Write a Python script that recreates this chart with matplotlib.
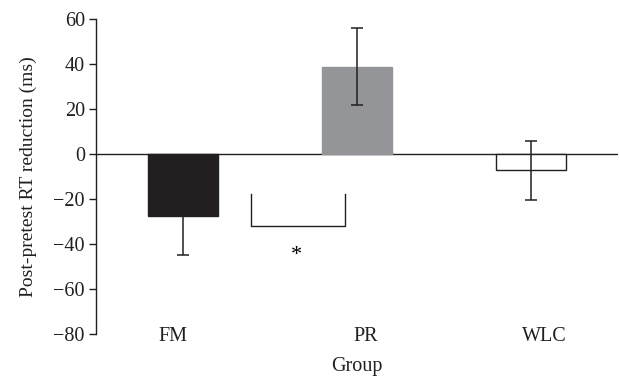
import matplotlib
matplotlib.use("Agg")
import matplotlib.pyplot as plt
import numpy as np

# data
groups = ["FM", "PR", "WLC"]
means = [-27.5, 38.7, -7.3]
errors = [17.4, 17.2, 13.1]
bar_colors = ["#231f20", "#939598", "#ffffff"]
edge_colors = ["#231f20", "#939598", "#231f20"]
yticks = [-80, -60, -40, -20, 0, 20, 40, 60]

# significance bracket between FM and PR (data coords)
bracket_x = [0.39, 0.93]
bracket_y = [-18, -32]
star_pos = (0.65, -45)

plt.rcParams['font.family'] = ['Liberation Serif', 'DejaVu Serif']
fs = 14.5

fig = plt.figure(figsize=(6.19, 3.76), dpi=100)
ax = fig.add_axes([0.155, 0.112, 0.843, 0.838])

x = np.arange(len(groups))
ax.bar(x, means, width=0.4, color=bar_colors, edgecolor=edge_colors, linewidth=1.0, zorder=2)
ax.errorbar(x, means, yerr=errors, fmt="none", ecolor="#231f20", elinewidth=1.1,
            capsize=4, capthick=1.1, zorder=3)
ax.axhline(0, color="#231f20", linewidth=1.0, zorder=1)

# bracket + asterisk
ax.plot([bracket_x[0], bracket_x[0], bracket_x[1], bracket_x[1]],
        [bracket_y[0], bracket_y[1], bracket_y[1], bracket_y[0]],
        color="#231f20", linewidth=1.0)
ax.text(star_pos[0], star_pos[1], "*", ha="center", va="center", fontsize=16)

ax.set_xlim(-0.5, 2.5)
ax.set_ylim(-80, 60)
ax.set_yticks(yticks)
ax.set_yticklabels(["\u2212%d" % -v if v < 0 else str(v) for v in yticks])
ax.set_xticks(x + np.array([-0.06, 0.05, 0.08]))
ax.set_xticklabels(groups)

for side in ["top", "right", "bottom"]:
    ax.spines[side].set_visible(False)
ax.spines["left"].set_linewidth(1.0)
ax.spines["left"].set_color("#231f20")
ax.tick_params(axis="x", length=0, labelsize=fs, pad=-5, colors="#231f20")
ax.tick_params(axis="y", length=5, width=1.0, labelsize=fs, pad=3, colors="#231f20")

ax.set_ylabel("Post-pretest RT reduction (ms)", fontsize=14, labelpad=12, color="#231f20")
ax.set_xlabel("Group", fontsize=fs, labelpad=8, color="#231f20")

fig.savefig("out.png", dpi=100)
